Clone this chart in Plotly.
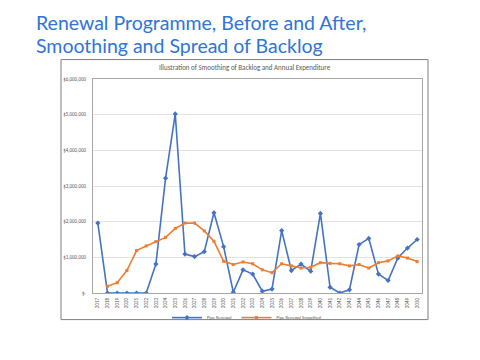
import plotly.graph_objects as go

years = [str(y) for y in range(2017, 2051)]
pipe_renewal = [1.96, 0, 0, 0, 0, 0, 0.81, 3.22, 5.02, 1.09, 1.02, 1.16, 2.25, 1.30, 0.02,
                0.65, 0.53, 0.05, 0.11, 1.75, 0.63, 0.81, 0.61, 2.23, 0.16, 0.0, 0.09, 1.36,
                1.53, 0.53, 0.35, 0.98, 1.26, 1.50]
pipe_smoothed = [None, 0.19, 0.29, 0.63, 1.19, 1.32, 1.44, 1.56, 1.81, 1.96, 1.96, 1.74, 1.45,
                 0.89, 0.80, 0.87, 0.82, 0.65, 0.57, 0.82, 0.76, 0.70, 0.72, 0.85, 0.83, 0.82,
                 0.76, 0.80, 0.70, 0.85, 0.90, 1.04, 0.98, 0.88]
pipe_renewal = [v * 1e6 for v in pipe_renewal]
pipe_smoothed = [None if v is None else v * 1e6 for v in pipe_smoothed]
y_ticks = [0, 1e6, 2e6, 3e6, 4e6, 5e6, 6e6]
y_tick_text = ["$-", "$1,000,000", "$2,000,000", "$3,000,000", "$4,000,000", "$5,000,000", "$6,000,000"]

BLUE = "#4472C4"
ORANGE = "#ED7D31"

fig = go.Figure()
fig.add_trace(go.Scatter(x=years, y=pipe_renewal, name="Pipe Renewal", mode="lines+markers",
                         line=dict(color=BLUE, width=1.6), marker=dict(symbol="diamond", size=4, color=BLUE)))
fig.add_trace(go.Scatter(x=years, y=pipe_smoothed, name="Pipe Renewal Smoothed", mode="lines+markers",
                         line=dict(color=ORANGE, width=1.6), marker=dict(symbol="square", size=3, color=ORANGE)))

L, R, T, B = 93, 422, 78.5, 293.3
W, H = R - L, B - T
def px(x): return (x - L) / W
def py(y): return (B - y) / H

fig.update_layout(
    width=480, height=360,
    margin=dict(l=L, r=480 - R, t=T, b=360 - B, autoexpand=False),
    paper_bgcolor="white", plot_bgcolor="white",
    font=dict(family="Carlito, Lato, sans-serif", color="#595959"),
    showlegend=True,
    legend=dict(orientation="h", x=px(247), xanchor="center", y=py(318), yanchor="middle",
                font=dict(size=4.5, color="#595959"), itemwidth=30, tracegroupgap=0,
                bgcolor="rgba(0,0,0,0)"),
    xaxis=dict(type="category", range=[-0.5, len(years) - 0.5], tickangle=-90,
               tickfont=dict(size=5, color="#595959"),
               showgrid=False, showline=True, linecolor="#a6a6a6", linewidth=1, mirror=True,
               ticks="", ticklabelstandoff=2, automargin=False),
    yaxis=dict(range=[0, 6e6], tickvals=y_ticks, ticktext=y_tick_text,
               tickfont=dict(size=5, color="#595959"), showgrid=True, gridcolor="#e3e3e3",
               gridwidth=1, showline=True, linecolor="#a6a6a6", linewidth=1, mirror=True,
               zeroline=False, ticks="", ticklabelstandoff=5, automargin=False),
)

# outer chart box
fig.add_shape(type="rect", xref="paper", yref="paper", x0=px(61), x1=px(428), y0=py(320), y1=py(59),
              line=dict(color="#7f7f7f", width=1), layer="below")

fig.add_annotation(text="Illustration of Smoothing of Backlog and Annual Expenditure",
                   xref="paper", yref="paper", x=px(245), y=py(67), showarrow=False,
                   xanchor="center", yanchor="middle", font=dict(size=7, color="#595959"))

for i, line in enumerate(["Renewal Programme, Before and After,", "Smoothing and Spread of Backlog"]):
    fig.add_annotation(text=line, xref="paper", yref="paper", x=px(34), y=py(22 + 23 * i),
                       showarrow=False, xanchor="left", yanchor="middle",
                       font=dict(size=19.5, color="#2E75D6", family="Lato, sans-serif"))

fig.write_html("out.html", config={"displayModeBar": False},
               post_script="document.body.style.margin='0';document.body.style.overflow='hidden';")
